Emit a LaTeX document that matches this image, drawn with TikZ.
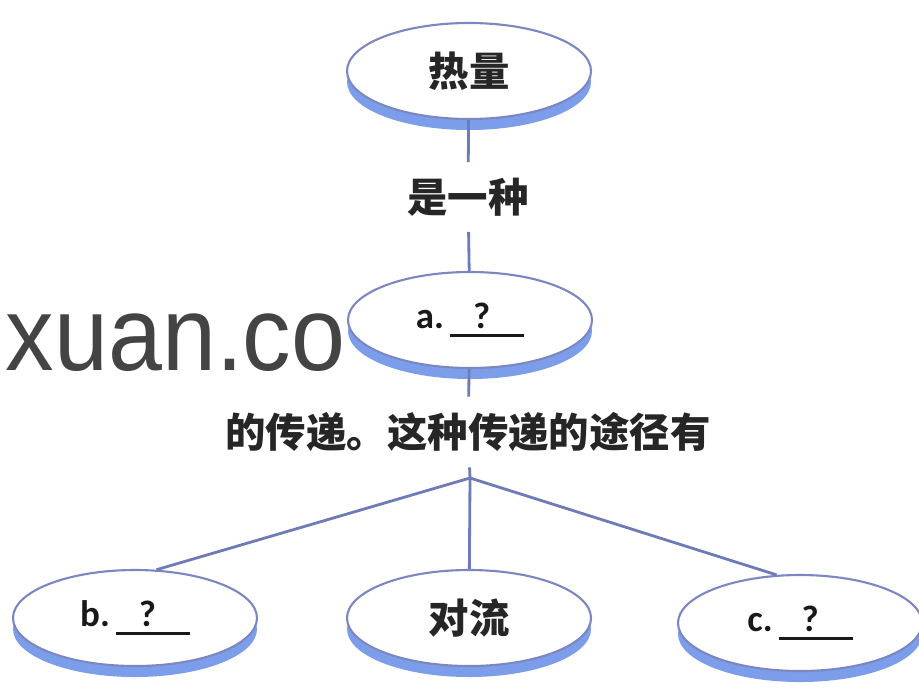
\documentclass[tikz,border=0pt]{standalone}
\usepackage{fontspec}
\newfontfamily\cjk{Noto Sans CJK SC}
\newfontfamily\latinsans{Carlito}
\newfontfamily\wmfont[FakeStretch=0.92]{Liberation Sans}
\usetikzlibrary{shapes.geometric,shadows}
\definecolor{rimblue}{HTML}{7C9DEA}
\definecolor{edgeblue}{HTML}{7C87C2}
\definecolor{lineblue}{HTML}{6E7BB8}
\definecolor{wmgray}{HTML}{444444}
\tikzset{
  disc/.style={ellipse, draw=edgeblue, line width=0.6pt, fill=white, minimum width=2.44cm,
               minimum height=0.96cm, inner sep=0pt,
               drop shadow={fill=rimblue, opacity=1, shadow xshift=0pt, shadow yshift=-0.11cm}},
  word/.style={font=\cjk\bfseries\fontsize{11.5}{13}\selectfont, text=black!85},
  ans/.style={font=\latinsans\bfseries\fontsize{10.5}{12}\selectfont, text=black!90},
  lbl/.style={word, inner sep=0.15cm},
  conn/.style={draw=lineblue, line width=0.8pt},
  wm/.style={font=\wmfont\fontsize{30}{34}\selectfont, text=wmgray, inner sep=0pt},
}
\newcommand{\qblank}[1]{#1\,\rlap{\rule[-0.22em]{2em}{0.07em}}\makebox[2em]{?\hspace{0.3em}}}

\begin{document}
\begin{tikzpicture}
  \useasboundingbox (0,0) rectangle (9.19,6.89);
  \node[disc, word] (heat) at (4.69,6.18) {热量};
  \node[lbl] (isa) at (4.68,4.92) {是一种};
  \node[disc, ans] (a) at (4.70,3.69) {\qblank{a.}};
  \node[lbl] (via) at (4.68,2.57) {的传递。这种传递的途径有};
  \coordinate (fork) at (4.70,2.11);
  \node[disc, ans] (b) at (1.35,0.71) {\qblank{b.}};
  \node[disc, word] (conv) at (4.69,0.71) {对流};
  \node[disc, ans] (c) at (8.00,0.66) {\qblank{c.}};
  % connectors
  \draw[conn] (heat) -- (isa); \draw[conn] (isa) -- (a);
  \draw[conn] (a) -- (via); \draw[conn] (via) -- (fork);
  \draw[conn] (fork) -- (b.66); \draw[conn] (fork) -- (conv); \draw[conn] (fork) -- (c.116);
  % watermark on top
  \node[wm, anchor=base west] (wmark) at (0.05,3.19) {xuan.co};
\end{tikzpicture}
\end{document}
